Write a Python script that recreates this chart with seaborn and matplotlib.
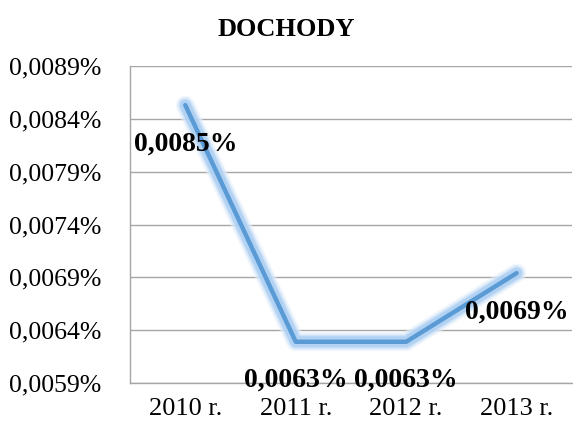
import numpy as np
import pandas as pd
import matplotlib
matplotlib.use("Agg")
import matplotlib.pyplot as plt
import matplotlib.patheffects as pe
from matplotlib.ticker import FixedLocator, FuncFormatter
import seaborn as sns

# dane
lata = ["2010 r.", "2011 r.", "2012 r.", "2013 r."]
dochody = [0.00853, 0.00629, 0.00629, 0.00694]   # wartości w %
etykiety = ["0,0085%", "0,0063%", "0,0063%", "0,0069%"]
y_ticks = [0.0059, 0.0064, 0.0069, 0.0074, 0.0079, 0.0084, 0.0089]

sns.set_style("white")
plt.rcParams['font.family'] = ['Liberation Serif', 'DejaVu Serif']
plt.rcParams['text.color'] = 'black'
plt.rcParams['xtick.color'] = 'black'
plt.rcParams['ytick.color'] = 'black'

df = pd.DataFrame({"x": np.arange(len(lata)), "y": dochody})

fig = plt.figure(figsize=(5.73, 4.26), dpi=100)
ax = fig.add_axes([0.227, 0.101, 0.771, 0.744])

# miekka poswiata wokol linii
glow = [pe.Stroke(linewidth=14, foreground="#e9f2fc", alpha=0.5),
        pe.Stroke(linewidth=12, foreground="#d6e7f9", alpha=0.5),
        pe.Stroke(linewidth=10, foreground="#c0daf6", alpha=0.6),
        pe.Stroke(linewidth=8, foreground="#a6ccf2", alpha=0.7),
        pe.Normal()]
sns.lineplot(data=df, x="x", y="y", ax=ax, color="#5b9bd5", linewidth=3.2,
             solid_joinstyle="round", solid_capstyle="round",
             path_effects=glow, zorder=3)

for xi, yi, lab in zip(df["x"], df["y"], etykiety):
    ax.annotate(lab, (xi, yi), xytext=(0, -28), textcoords="offset points",
                ha="center", va="center", fontsize=20, fontweight="bold",
                color="black", zorder=4)

ax.set_ylim(0.0059, 0.0089)
ax.set_yticks(y_ticks)
ax.yaxis.set_major_formatter(FuncFormatter(lambda v, p: f"{v:.4f}%".replace(".", ",")))
ax.grid(axis="y", color="#a6a6a6", linewidth=1)
ax.set_axisbelow(True)

ax.set_xlim(-0.5, 3.5)
ax.xaxis.set_major_locator(FixedLocator([-0.5, 0.5, 1.5, 2.5, 3.5]))
ax.xaxis.set_minor_locator(FixedLocator(range(len(lata))))
ax.set_xticklabels([], minor=False)
ax.set_xticklabels(lata, minor=True)
ax.tick_params(axis="x", which="major", length=6, color="#a6a6a6", width=1, direction="out")
ax.tick_params(axis="x", which="minor", length=0, pad=11, labelsize=19)
ax.tick_params(axis="y", length=8, color="#a6a6a6", width=1, direction="out",
               labelsize=18.5, pad=13)
ax.set_xlabel("")
ax.set_ylabel("")

for s in ["top", "right"]:
    ax.spines[s].set_visible(False)
for s in ["left", "bottom"]:
    ax.spines[s].set_color("#a6a6a6")
    ax.spines[s].set_linewidth(1)

fig.text(0.5, 0.93, "DOCHODY", ha="center", va="center", fontsize=19,
         fontweight="bold", color="black")

fig.savefig("out.png", dpi=100)
